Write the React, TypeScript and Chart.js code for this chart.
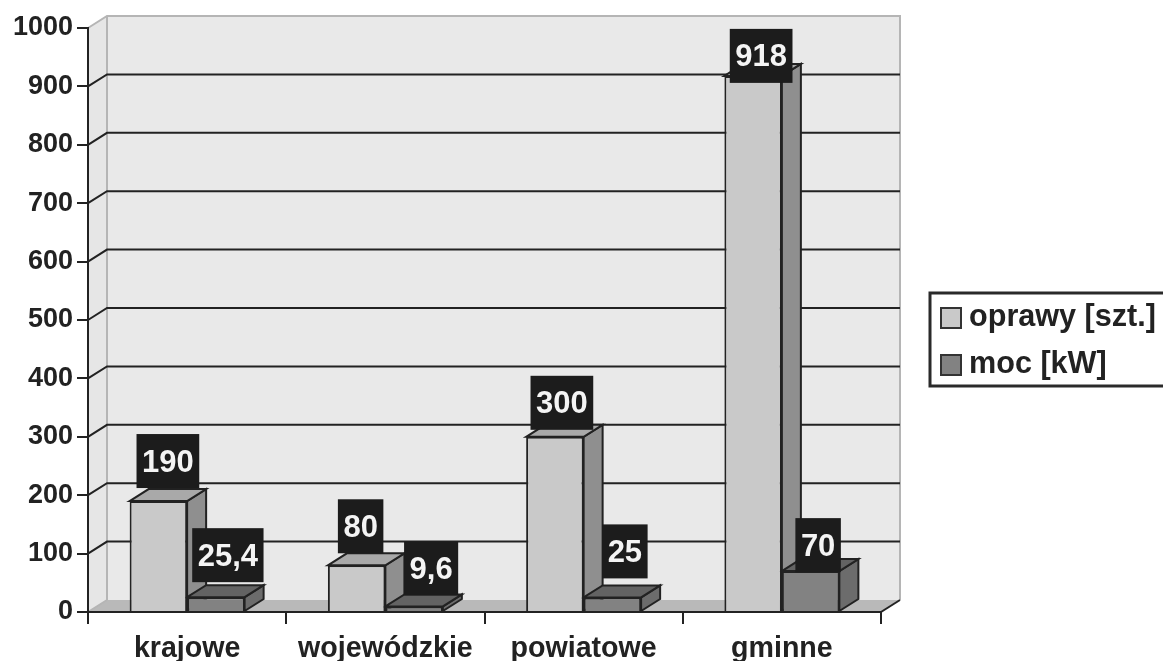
import React, { useEffect, useRef } from "react";
import { Chart, registerables } from "chart.js";

Chart.register(...registerables);

const categories = ["krajowe", "wojewódzkie", "powiatowe", "gminne"];
const oprawy = [190, 80, 300, 918];
const moc = [25.4, 9.6, 25, 70];
const seriesNames = ["oprawy [szt.]", "moc [kW]"];
const yTicks = [0, 100, 200, 300, 400, 500, 600, 700, 800, 900, 1000];

const DX = 19;
const DY = -12;
const INK = "#222222";
const FACES = [
  { front: "#c9c9c9", top: "#a9a9a9", side: "#8f8f8f" },
  { front: "#828282", top: "#636363", side: "#6c6c6c" },
];
// Hand placement of the value boxes relative to their bars, as in the original.
const LABEL_NUDGE = [
  [[9.5, -13], [4, -12], [7, -7], [8, 7]],
  [[12, -15], [17, -11], [12.5, -19], [7.5, 1]],
];
const LABEL_FONT = "bold 31px 'Liberation Sans'";
const LEGEND_FONT = "bold 30.6px 'Liberation Sans'";

function poly(ctx: CanvasRenderingContext2D, pts: number[][], fill: string, stroke?: string, lw = 2) {
  ctx.beginPath();
  pts.forEach((p, i) => (i ? ctx.lineTo(p[0], p[1]) : ctx.moveTo(p[0], p[1])));
  ctx.closePath();
  ctx.fillStyle = fill;
  ctx.fill();
  if (stroke) {
    ctx.strokeStyle = stroke;
    ctx.lineWidth = lw;
    ctx.stroke();
  }
}

const scenePlugin = {
  id: "scene3d",
  beforeDraw(chart: any) {
    const { ctx, chartArea: a, scales } = chart;
    const y = scales.y;
    ctx.save();
    // left wall, back wall, floor
    poly(ctx, [[a.left, a.top], [a.left + DX, a.top + DY], [a.left + DX, a.bottom + DY], [a.left, a.bottom]], "#e6e6e6");
    poly(ctx, [[a.left + DX, a.top + DY], [a.right + DX, a.top + DY], [a.right + DX, a.bottom + DY], [a.left + DX, a.bottom + DY]], "#e9e9e9");
    poly(ctx, [[a.left, a.bottom], [a.left + DX, a.bottom + DY], [a.right + DX, a.bottom + DY], [a.right, a.bottom]], "#b9b9b9");
    // light outline of the walls
    ctx.strokeStyle = "#b5b5b5";
    ctx.lineWidth = 2;
    ctx.beginPath();
    ctx.moveTo(a.left, a.top);
    ctx.lineTo(a.left + DX, a.top + DY);
    ctx.lineTo(a.right + DX, a.top + DY);
    ctx.lineTo(a.right + DX, a.bottom + DY);
    ctx.moveTo(a.left + DX, a.top + DY);
    ctx.lineTo(a.left + DX, a.bottom + DY);
    ctx.moveTo(a.left, a.bottom);
    ctx.lineTo(a.left + DX, a.bottom + DY);
    ctx.stroke();
    // gridlines
    ctx.strokeStyle = INK;
    ctx.lineWidth = 2;
    yTicks.forEach((t) => {
      if (t === 0 || t === 1000) return;
      const py = y.getPixelForValue(t);
      ctx.beginPath();
      ctx.moveTo(a.left, py);
      ctx.lineTo(a.left + DX, py + DY);
      ctx.lineTo(a.right + DX, py + DY);
      ctx.stroke();
    });
    // right-hand floor edge
    ctx.beginPath();
    ctx.moveTo(a.right, a.bottom);
    ctx.lineTo(a.right + DX, a.bottom + DY);
    ctx.stroke();
    ctx.restore();
  },
  beforeDatasetsDraw(chart: any) {
    const { ctx } = chart;
    ctx.save();
    chart.data.datasets.forEach((_: any, di: number) => {
      chart.getDatasetMeta(di).data.forEach((bar: any) => {
        const { x, y, base, width } = bar.getProps(["x", "y", "base", "width"], true);
        const l = x - width / 2;
        const r = x + width / 2;
        poly(ctx, [[r, y], [r + DX, y + DY], [r + DX, base + DY], [r, base]], FACES[di].side, INK);
        poly(ctx, [[l, y], [l + DX, y + DY], [r + DX, y + DY], [r, y]], FACES[di].top, INK);
      });
    });
    ctx.restore();
  },
  afterDatasetsDraw(chart: any) {
    const { ctx, chartArea: a, scales } = chart;
    ctx.save();
    // baseline over the bar feet
    ctx.strokeStyle = INK;
    ctx.lineWidth = 2;
    ctx.beginPath();
    ctx.moveTo(a.left, scales.y.getPixelForValue(0));
    ctx.lineTo(a.right, scales.y.getPixelForValue(0));
    ctx.stroke();
    // value boxes
    ctx.font = LABEL_FONT;
    ctx.textAlign = "center";
    ctx.textBaseline = "middle";
    chart.data.datasets.forEach((ds: any, di: number) => {
      chart.getDatasetMeta(di).data.forEach((bar: any, i: number) => {
        const { x, y } = bar.getProps(["x", "y"], true);
        const text = String(ds.data[i]).replace(".", ",");
        const w = ctx.measureText(text).width + 11;
        const h = 54;
        const cx = x + LABEL_NUDGE[di][i][0];
        const bottom = y + LABEL_NUDGE[di][i][1];
        ctx.fillStyle = "#1c1c1c";
        ctx.fillRect(cx - w / 2, bottom - h, w, h);
        ctx.fillStyle = "#f4f4f4";
        ctx.fillText(text, cx, bottom - h / 2 + 2);
      });
    });
    // legend
    ctx.strokeStyle = "#2a2a2a";
    ctx.lineWidth = 3;
    ctx.strokeRect(930, 293, 260, 93);
    ctx.font = LEGEND_FONT;
    ctx.textAlign = "left";
    chart.data.datasets.forEach((ds: any, di: number) => {
      const top = 308 + di * 47;
      ctx.fillStyle = FACES[di].front;
      ctx.fillRect(941, top, 20, 20);
      ctx.strokeStyle = "#333333";
      ctx.lineWidth = 2;
      ctx.strokeRect(941, top, 20, 20);
      ctx.fillStyle = INK;
      ctx.fillText(ds.label, 969, top + 10);
    });
    ctx.restore();
  },
};

export default function App() {
  const ref = useRef<HTMLCanvasElement>(null);
  useEffect(() => {
    const chart = new Chart(ref.current!, {
      type: "bar",
      data: {
        labels: categories,
        datasets: [
          { label: seriesNames[0], data: oprawy, backgroundColor: FACES[0].front, borderColor: INK, borderWidth: 2, categoryPercentage: 0.58, barPercentage: 1 },
          { label: seriesNames[1], data: moc, backgroundColor: FACES[1].front, borderColor: INK, borderWidth: 2, categoryPercentage: 0.58, barPercentage: 1 },
        ],
      } as any,
      options: {
        responsive: false,
        animation: false,
        layout: { padding: { top: 28, right: 282, left: 0, bottom: 0 } },
        plugins: { legend: { display: false }, tooltip: { enabled: false } },
        scales: {
          x: {
            afterFit: (s: any) => { s.height = 49; },
            grid: { drawOnChartArea: false, drawTicks: true, tickLength: 12, color: INK, lineWidth: 2 },
            border: { color: INK, width: 2 },
            ticks: { color: INK, font: { family: "'Liberation Sans'", size: 28.6, weight: "bold" }, padding: 8, maxRotation: 0 },
          },
          y: {
            min: 0,
            max: 1000,
            afterBuildTicks: (s: any) => { s.ticks = yTicks.map((value) => ({ value })); },
            afterFit: (s: any) => { s.width = 88; },
            grid: { drawOnChartArea: false, drawTicks: true, tickLength: 11, color: INK, lineWidth: 2 },
            border: { color: INK, width: 2 },
            ticks: { color: INK, font: { family: "'Liberation Sans'", size: 27, weight: "bold" }, padding: 4, callback: (v: any) => String(v) },
          },
        },
      },
      plugins: [scenePlugin],
    } as any);
    return () => chart.destroy();
  }, []);
  return <canvas ref={ref} width={1163} height={661} style={{ position: "fixed", left: 0, top: 0 }} />;
}
